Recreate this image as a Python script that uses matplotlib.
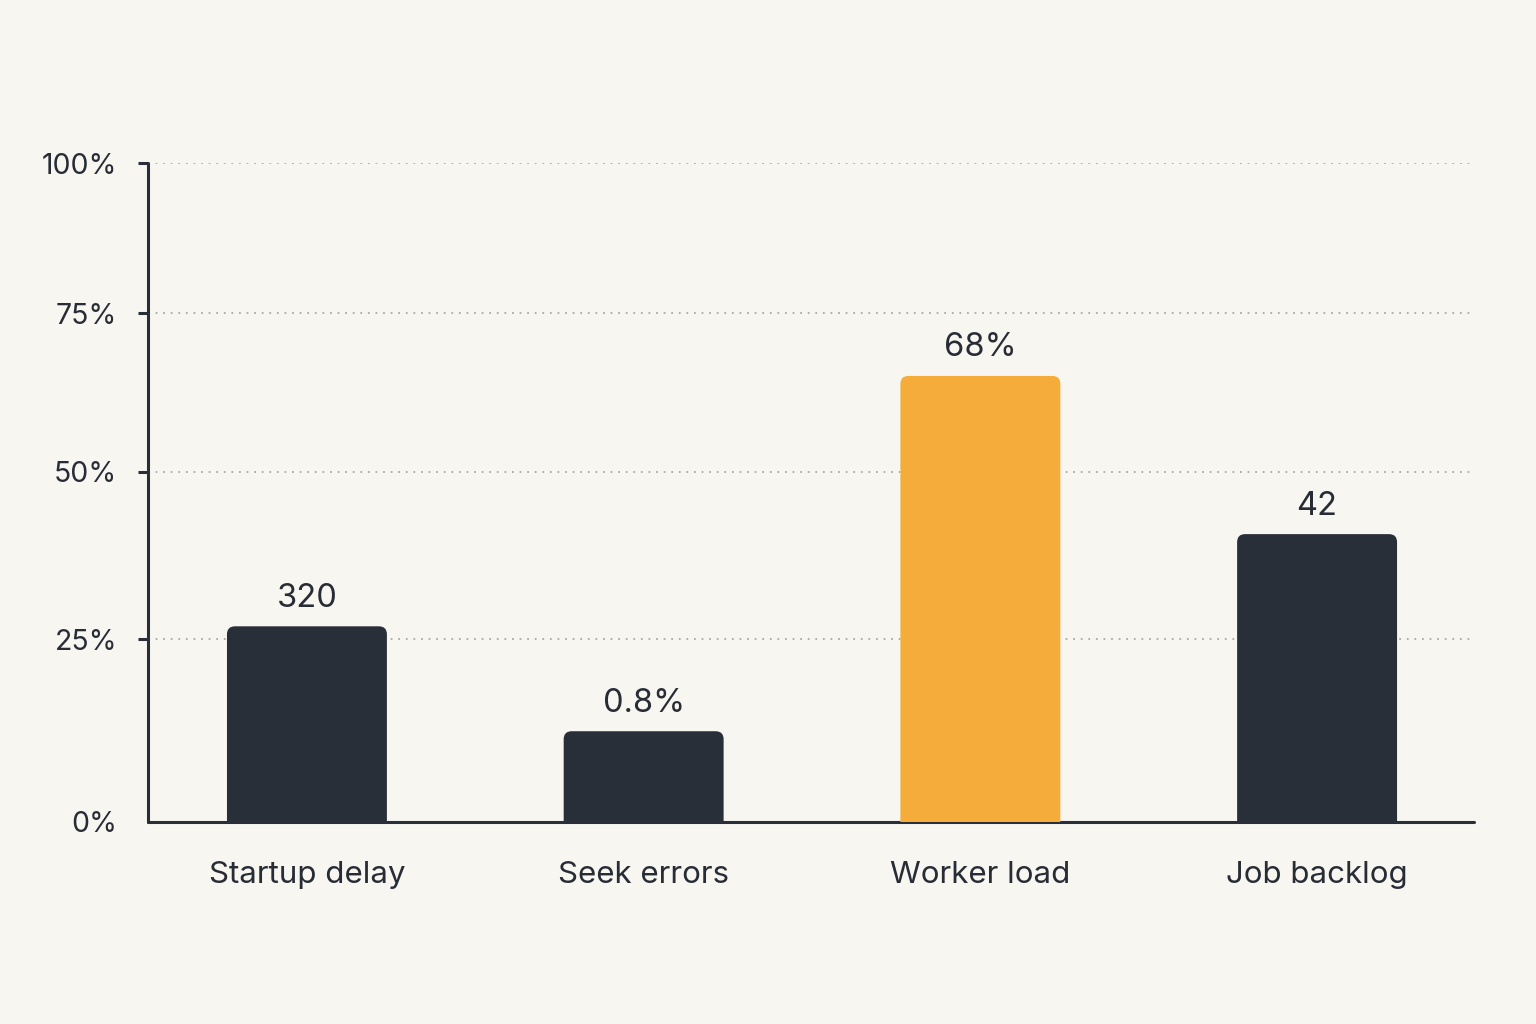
import numpy as np
import matplotlib
matplotlib.use("Agg")
import matplotlib.pyplot as plt
from matplotlib.patches import FancyBboxPatch
from matplotlib.transforms import IdentityTransform

categories = ["Startup delay", "Seek errors", "Worker load", "Job backlog"]
heights = [26.9, 12.4, 65.1, 40.7]          # bar heights on the % axis
value_labels = ["320", "0.8%", "68%", "42"]
highlight = [False, False, True, False]
y_ticks = [0, 25, 50, 75, 100]
y_tick_labels = ["0%", "25%", "50%", "75%", "100%"]
# the reference axis is not evenly spaced; relative pixel positions of each tick
y_tick_pos = [0, 183, 350, 509, 659]

BG = "#f8f6f1"
DARK = "#292f39"
ORANGE = "#f6ac3a"
TEXT = "#272c35"
GRID = "#a9a9a6"

plt.rcParams["font.family"] = ["Inter", "DejaVu Sans"]

fig = plt.figure(figsize=(15.36, 10.24), dpi=100, facecolor=BG)
ax = fig.add_axes([148 / 1536, 1 - 822 / 1024, (1474 - 148) / 1536, (822 - 163) / 1024])
ax.set_facecolor(BG)

fwd = lambda v: np.interp(v, y_ticks, y_tick_pos)
inv = lambda v: np.interp(v, y_tick_pos, y_ticks)
ax.set_yscale("function", functions=(fwd, inv))
ax.set_ylim(0, 100)

x = np.arange(len(categories))
colors = [ORANGE if h else DARK for h in highlight]
bars = ax.bar(x, heights, width=0.475, color=colors, zorder=3)
ax.set_xlim(-0.472, 3.466)

ax.set_yticks(y_ticks)
ax.set_yticklabels(y_tick_labels)
ax.set_xticks(x)
ax.set_xticklabels(categories)

for s in ["top", "right"]:
    ax.spines[s].set_visible(False)
for s in ["left", "bottom"]:
    ax.spines[s].set_color(DARK)
    ax.spines[s].set_linewidth(2.2)
    ax.spines[s].set_capstyle("round")

ax.tick_params(axis="x", length=0, pad=28, labelsize=22.5, labelcolor=TEXT)
ax.tick_params(axis="y", length=7, width=2.2, color=DARK, pad=15, labelsize=20.5, labelcolor=TEXT)
ax.yaxis.get_major_ticks()[0].tick1line.set_visible(False)
ax.yaxis.grid(True, linestyle=(0, (1, 3.2)), color=GRID, linewidth=1.3, zorder=0)
ax.set_axisbelow(True)
for gl, t in zip(ax.yaxis.get_gridlines(), y_ticks):
    if t == 0:
        gl.set_visible(False)

for b, lab in zip(bars, value_labels):
    ax.annotate(lab, (b.get_x() + b.get_width() / 2, b.get_height()),
                xytext=(0, 9), textcoords="offset points", ha="center", va="bottom",
                fontsize=23.5, color=TEXT, zorder=4)

# replace bars by rounded-top versions in display space
fig.canvas.draw()
r = 8
for b in bars:
    bb = b.get_window_extent()
    p = FancyBboxPatch((bb.x0 + r, bb.y0 - 3 * r), bb.width - 2 * r, bb.height + 3 * r - r,
                       boxstyle=f"round,pad={r},rounding_size={r}",
                       transform=IdentityTransform(), facecolor=b.get_facecolor(),
                       edgecolor="none", zorder=3)
    p.set_clip_path(ax.patch)
    ax.add_artist(p)
    b.set_visible(False)

fig.savefig("out.png", dpi=100, facecolor=BG)
